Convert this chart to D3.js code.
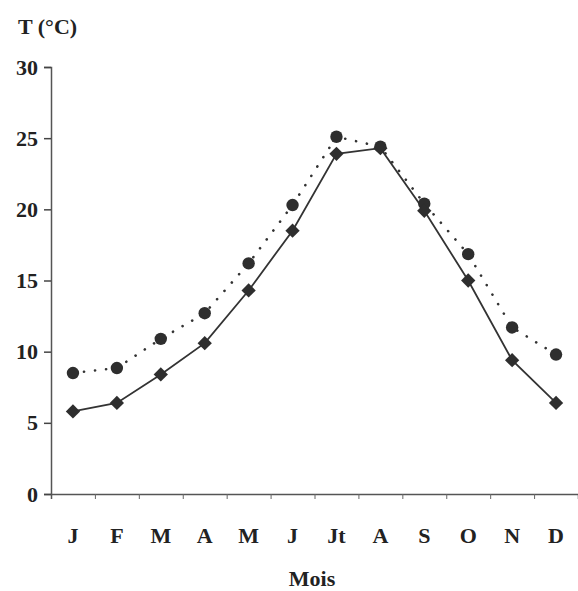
<!DOCTYPE html>
<html>
<head>
<meta charset="utf-8">
<script src="https://cdn.jsdelivr.net/npm/d3@7"></script>
<style>
  body { margin: 0; background: #fff; }
  text { font-family: "Liberation Serif", "DejaVu Serif", serif; fill: #222; }
</style>
</head>
<body>
<div id="chart"></div>
<script>
const months = ['J', 'F', 'M', 'A', 'M', 'J', 'Jt', 'A', 'S', 'O', 'N', 'D'];
const seriesDiamond = [5.8, 6.4, 8.4, 10.6, 14.3, 18.5, 23.9, 24.3, 19.9, 15.0, 9.4, 6.4];
const seriesCircle = [8.5, 8.85, 10.9, 12.7, 16.2, 20.3, 25.1, 24.4, 20.4, 16.85, 11.7, 9.8];
const yTicks = [0, 5, 10, 15, 20, 25, 30];

const width = 578, height = 591;
const margin = { top: 67, right: 0, bottom: 97, left: 51 };
const innerW = width - margin.left - margin.right;
const innerH = height - margin.top - margin.bottom;

const svg = d3.select('#chart').append('svg')
  .attr('width', width)
  .attr('height', height);

const chart = svg.append('g')
  .attr('transform', 'translate(' + margin.left + ',' + margin.top + ')');

const idx = d3.range(months.length);
const xBand = d3.scaleBand().domain(idx).range([0, innerW]);
const xEdge = d3.scaleLinear().domain([0, months.length]).range([0, innerW]);
const yScale = d3.scaleLinear().domain([0, 30]).range([innerH, 0]);

// y axis
const yAxis = chart.append('g')
  .call(d3.axisLeft(yScale).tickValues(yTicks).tickSize(7).tickPadding(6));
yAxis.select('.domain').attr('stroke', '#555').attr('stroke-width', 1.5);
yAxis.selectAll('.tick line').attr('stroke', '#444').attr('stroke-width', 1.5);
yAxis.selectAll('.tick text')
  .style('font-size', '22px')
  .style('font-weight', 'bold')
  .attr('fill', '#222');

// x axis: ticks on category boundaries
const xAxis = chart.append('g')
  .attr('transform', 'translate(0,' + innerH + ')')
  .call(d3.axisBottom(xEdge).tickValues(d3.range(1, months.length)).tickSize(5).tickFormat(''));
xAxis.select('.domain').attr('stroke', '#555').attr('stroke-width', 1.5);
xAxis.selectAll('.tick line').attr('stroke', '#666');

const xLabels = chart.append('g')
  .attr('transform', 'translate(0,' + innerH + ')')
  .call(d3.axisBottom(xBand).tickSize(0).tickPadding(49).tickFormat(i => months[i]));
xLabels.select('.domain').remove();
xLabels.selectAll('.tick text')
  .style('font-size', '22px')
  .style('font-weight', 'bold')
  .attr('fill', '#222')
  .attr('dy', '0');

const cx = i => xBand(i) + xBand.bandwidth() / 2;

// circle series (dotted)
chart.append('path')
  .datum(seriesCircle)
  .attr('fill', 'none')
  .attr('stroke', '#333')
  .attr('stroke-width', 2.6)
  .attr('stroke-linecap', 'round')
  .attr('stroke-dasharray', '0.1 11')
  .attr('d', d3.line().x((d, i) => cx(i)).y(d => yScale(d)));

// diamond series (solid)
chart.append('path')
  .datum(seriesDiamond)
  .attr('fill', 'none')
  .attr('stroke', '#333')
  .attr('stroke-width', 1.8)
  .attr('d', d3.line().x((d, i) => cx(i)).y(d => yScale(d)));

chart.selectAll('.circ')
  .data(seriesCircle)
  .enter()
  .append('circle')
  .attr('class', 'circ')
  .attr('cx', (d, i) => cx(i))
  .attr('cy', d => yScale(d))
  .attr('r', 6.2)
  .attr('fill', '#2e2e2e');

chart.selectAll('.diam')
  .data(seriesDiamond)
  .enter()
  .append('path')
  .attr('class', 'diam')
  .attr('d', d3.symbol().type(d3.symbolDiamond2 || d3.symbolSquare).size(130))
  .attr('transform', (d, i) => 'translate(' + cx(i) + ',' + yScale(d) + ') rotate(' + (d3.symbolDiamond2 ? 0 : 45) + ')')
  .attr('fill', '#2e2e2e');

// titles
svg.append('text')
  .attr('x', 18)
  .attr('y', 34)
  .style('font-size', '22px')
  .style('font-weight', 'bold')
  .text('T (°C)');

svg.append('text')
  .attr('x', 312)
  .attr('y', 586)
  .attr('text-anchor', 'middle')
  .style('font-size', '22px')
  .style('font-weight', 'bold')
  .text('Mois');
</script>
</body>
</html>
